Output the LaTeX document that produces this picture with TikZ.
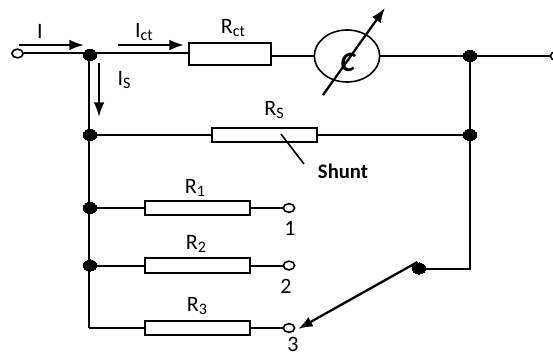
\documentclass[tikz,border=0pt]{standalone}
\usepackage{fontspec}
\setmainfont{Carlito}
\usetikzlibrary{shapes.geometric,arrows.meta}
\newcommand{\subtxt}[1]{\raisebox{-2.2pt}{\fontsize{12}{12}\selectfont #1}}
\tikzset{
  x=0.75pt,y=-0.75pt,
  wire/.style={line width=1.5pt,black},
  thinwire/.style={line width=1.2pt,black},
  flow/.style={line width=1.7pt,black,-{Latex[length=11pt,width=8pt]}},
  res/.style={draw=black,line width=1.5pt,fill=white,rectangle,inner sep=0pt},
  rbig/.style={res,minimum width=62pt,minimum height=16.5pt},
  rsmall/.style={res,minimum width=79pt,minimum height=11pt},
  dot/.style={ellipse,fill=black,draw=black,line width=0pt,inner sep=0pt,minimum width=10pt,minimum height=8.5pt},
  term/.style={ellipse,fill=white,draw=black,line width=1.2pt,inner sep=0pt,minimum width=8.5pt,minimum height=6.5pt},
  lab/.style={inner sep=0pt,font=\fontsize{16.5}{18}\selectfont,text=black},
  meter/.style={ellipse,draw=black,line width=1.2pt,fill=white,inner sep=0pt,minimum width=49pt,minimum height=39pt}
}
\begin{document}
\begin{tikzpicture}
\useasboundingbox (0,0) rectangle (553,356);
% nodes
\node[term] (tin) at (17.5,53.5) {};
\node[dot] (j1) at (90,55) {};
\node[dot] (j2) at (90,135) {};
\node[dot] (j3) at (90,208) {};
\node[dot] (j4) at (90,265.5) {};
\coordinate (c5) at (89,328);
\node[rbig] (rct) at (230,54.5) {};
\node[meter] (m) at (347,56) {};
\node[dot] (k1) at (470,56) {};
\node[dot] (k2) at (470,135) {};
\node[term] (tout) at (556,56) {};
\node[rsmall] (rs) at (264.5,135) {};
\node[rsmall] (r1) at (197.5,208) {};
\node[rsmall] (r2) at (197.5,265.5) {};
\node[rsmall] (r3) at (197.5,328) {};
\node[term] (t1) at (289,208) {};
\node[term] (t2) at (289,265.5) {};
\node[term] (t3) at (289,328) {};
\node[dot] (sw) at (419,268.5) {};
\coordinate (c6) at (470,268.5);
\coordinate (armstart) at (417.5,262);
\coordinate (armtip) at (298,329);
% wires
\draw[wire] (tin) -- (tin -| rct.west);
\draw[wire] (rct.east |- m) -- (m);
\draw[wire] (m) -- (k1);
\draw[wire] (k1) -- (tout);
\draw[wire] (j2) -- (rs);
\draw[wire] (rs) -- (k2);
\draw[wire] (j3) -- (r1);
\draw[wire] (r1) -- (t1);
\draw[wire] (j4) -- (r2);
\draw[wire] (r2) -- (t2);
\draw[thinwire] (c5) -- (r3);
\draw[thinwire] (r3) -- (t3);
\draw[wire] (j1.center) ++(-1,0) -- (c5);
\draw[wire] (k1) -- (k2);
\draw[wire] (k2) -- (c6) -- (sw);
% current arrows
\coordinate (a1s) at (19,45); \coordinate (a1e) at (84,45);
\coordinate (a2s) at (118,45); \coordinate (a2e) at (184,45);
\coordinate (a3s) at (99,63); \coordinate (a3e) at (99,117);
\draw[flow] (a1s) -- (a1e);
\draw[flow] (a2s) -- (a2e);
\draw[flow] (a3s) -- (a3e);
% variable meter arrow and C
\coordinate (vs) at (323,95); \coordinate (ve) at (385,8);
\node[inner sep=0pt,font=\fontsize{21}{22}\selectfont\bfseries\itshape] (cl) at (348,62) {C};
\draw[line width=1.7pt,-{Latex[length=11pt,width=8pt]}] (vs) -- (ve);
% switch arm
\draw[line width=1.7pt,-{Latex[length=11pt,width=8pt]}] (armstart) -- (armtip);
% shunt
\node[lab,font=\fontsize{15.5}{17}\selectfont\bfseries] (sh) at (343,171) {Shunt};
\coordinate (ss) at (281,134); \coordinate (se) at (304,164);
\draw[thinwire] (ss) -- (se);
% labels
\node[lab] (li) at (40,31) {I};
\node[lab] (lict) at (144,32) {I\subtxt{ct}};
\node[lab] (lis) at (124,80) {I\subtxt{S}};
\node[lab] (lrct) at (233,28) {R\subtxt{ct}};
\node[lab] (lrs) at (274,110) {R\subtxt{S}};
\node[lab] (lr1) at (195,188) {R\subtxt{1}};
\node[lab] (lr2) at (196,244) {R\subtxt{2}};
\node[lab] (lr3) at (197,306) {R\subtxt{3}};
\node[lab] (n1) at (290,228) {1};
\node[lab] (n2) at (286,286) {2};
\node[lab] (n3) at (293,344.5) {3};
\end{tikzpicture}
\end{document}
